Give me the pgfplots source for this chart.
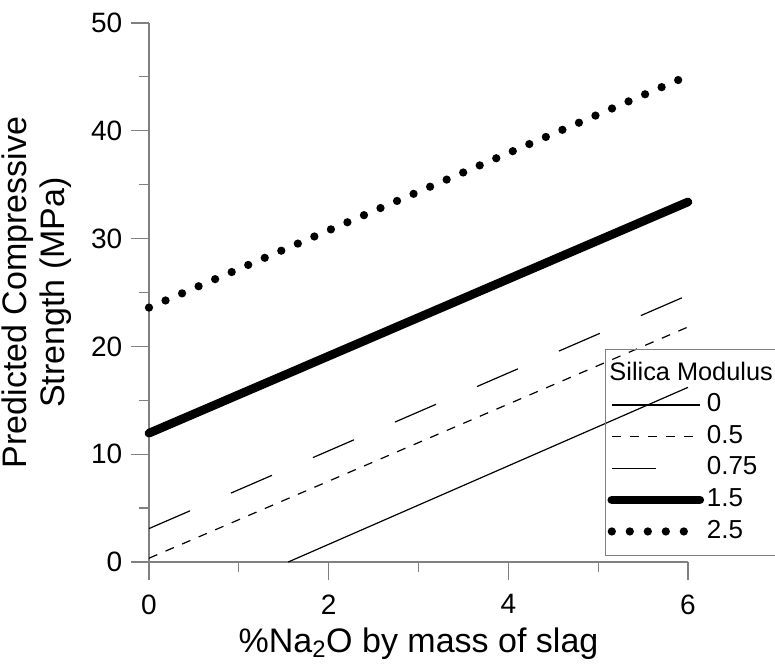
\documentclass[border=0pt]{standalone}
\usepackage{fontspec}
\setmainfont{Liberation Sans}
\usepackage{pgfplots}
\pgfplotsset{compat=1.18}
\begin{document}
\begin{tikzpicture}
\begin{axis}[
  scale only axis, width=404.25pt, height=404.25pt,
  xmin=0, xmax=6, ymin=0, ymax=50,
  axis x line*=bottom, axis y line*=left,
  axis line style={-, draw=gray, line width=0.9pt},
  xtick={0,2,4,6}, ytick={0,10,20,30,40,50},
  minor xtick={1,3,5}, minor ytick={5,15,25,35,45},
  tick align=outside,
  major tick length=13.5pt, minor tick length=7.5pt,
  every tick/.style={draw=gray, line width=0.9pt},
  ticklabel style={font=\fontsize{21}{24}\selectfont},
  xticklabel style={yshift=-7.5pt},
  yticklabel style={xshift=-3pt},
  /pgf/number format/assume math mode=true,
  clip=false,
  xlabel={\%Na\textsubscript{2}O by mass of slag},
  ylabel={Predicted Compressive\\Strength (MPa)},
  xlabel style={font=\fontsize{25.5}{28.5}\selectfont, at={(axis description cs:0.5,-0.122)}, anchor=north, inner sep=0pt},
  ylabel style={font=\fontsize{25.5}{28.5}\selectfont, align=center, at={(axis description cs:-0.273,0.5)}, anchor=north, inner sep=0pt},
  legend style={at={(axis description cs:0.846,0.395)}, anchor=north west, draw=gray, line width=0.75pt, fill=none,
    font=\fontsize{19.5}{23}\selectfont, inner xsep=1.5pt, inner ysep=8.9pt, row sep=5.7pt,
    cells={anchor=west}, nodes={inner sep=0pt, text height=14pt, text depth=4pt}},
  legend image code/.code={\draw[#1] (0pt,0pt) -- (66pt,0pt);},
]
\addlegendimage{empty legend}
\addlegendentry{\hspace*{-71pt}\fontsize{19}{23}\selectfont Silica Modulus\hspace*{20pt}}
\addplot[black, line width=0.9pt] coordinates {(1.55,0) (6,16.2)};
\addlegendentry{\hspace*{2pt}0}
\addplot[black, line width=0.9pt, dash pattern=on 6.75pt off 6.75pt] coordinates {(0,0.35) (6,21.8)};
\addlegendentry{\hspace*{2pt}0.5}
\addplot[black, line width=0.9pt, dash pattern=on 33.5pt off 33.5pt] coordinates {(0,3.1) (6,24.75)};
\addlegendentry{\hspace*{2pt}0.75}
\addplot[black, line width=6.5pt, line cap=round] coordinates {(0,11.95) (6,33.4)};
\addlegendentry{\hspace*{2pt}1.5}
\addplot[black, line width=6.2pt, line cap=round, dash pattern=on 0pt off 13.5pt] coordinates {(0,23.6) (6,45.1)};
\addlegendentry{\hspace*{2pt}2.5}
\end{axis}
\pgfresetboundingbox
\path (-111.75pt,-78pt) rectangle (469.5pt,421.5pt);
\end{tikzpicture}
\end{document}
